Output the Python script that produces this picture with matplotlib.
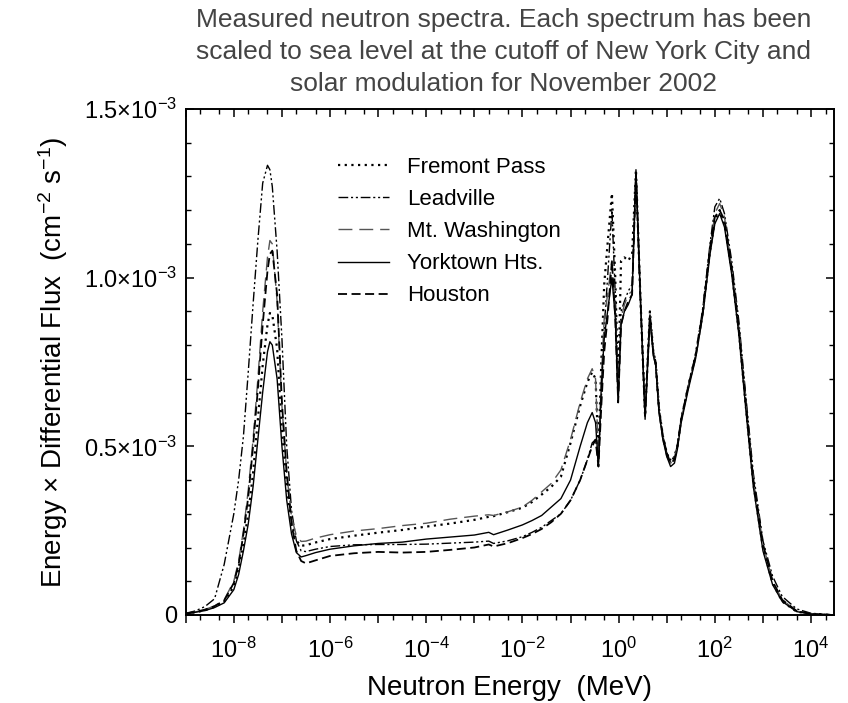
import numpy as np
import matplotlib
matplotlib.use("Agg")
import matplotlib.pyplot as plt
from matplotlib.ticker import FixedLocator, FuncFormatter, LogLocator, MultipleLocator, NullFormatter

plt.rcParams['font.family'] = ['Liberation Sans', 'DejaVu Sans']
plt.rcParams['mathtext.fontset'] = 'custom'
plt.rcParams['mathtext.rm'] = 'Liberation Sans'
plt.rcParams['mathtext.it'] = 'Liberation Sans:italic'

# ---- data (energy as log10(E / MeV), flux in units of 1e-3 cm^-2 s^-1) ----
log_energy = [-9.0, -8.8, -8.6, -8.4, -8.2, -8.0, -7.9, -7.8, -7.7, -7.6, -7.5, -7.4, -7.3, -7.25,
              -7.2, -7.1, -7.0, -6.9, -6.8, -6.7, -6.6,
              -6.5, -6.3, -6.0, -5.5, -5.0, -4.5, -4.0, -3.5, -3.0, -2.7, -2.6, -2.3, -2.0, -1.8,
              -1.6, -1.4, -1.2, -1.0,
              -0.8, -0.65, -0.55, -0.48, -0.42, -0.36, -0.3, -0.23, -0.14, -0.07, -0.01, 0.05,
              0.12, 0.2, 0.28, 0.36, 0.45, 0.55, 0.65, 0.72, 0.77, 0.84, 0.92,
              1.0, 1.08, 1.16, 1.22, 1.3, 1.45, 1.6, 1.75, 1.9, 2.0, 2.1, 2.2, 2.35, 2.5, 2.65,
              2.8, 3.0, 3.2, 3.4, 3.7, 4.0, 4.4]

fremont_pass = [0.004, 0.008, 0.014, 0.024, 0.04, 0.085, 0.14, 0.21, 0.30, 0.42, 0.58, 0.74, 0.86, 0.895,
                0.89, 0.79, 0.55, 0.38, 0.27, 0.22, 0.205,
                0.207, 0.215, 0.225, 0.235, 0.244, 0.252, 0.262, 0.271, 0.282, 0.291, 0.293, 0.305,
                0.318, 0.335, 0.357, 0.38, 0.41, 0.51,
                0.62, 0.69, 0.72, 0.70, 0.48, 0.75, 0.98, 1.10, 1.25, 1.00, 0.68, 1.05, 1.06, 1.05,
                1.07, 1.32, 0.95, 0.59, 0.90, 0.78, 0.75, 0.61, 0.53,
                0.48, 0.45, 0.47, 0.50, 0.58, 0.68, 0.77, 0.90, 1.08, 1.17, 1.20, 1.16, 1.02, 0.84,
                0.61, 0.39, 0.20, 0.095, 0.04, 0.01, 0.003, 0.0005]

leadville = [0.005, 0.012, 0.025, 0.048, 0.15, 0.30, 0.40, 0.53, 0.72, 0.92, 1.11, 1.28, 1.333, 1.32,
             1.27, 1.08, 0.82, 0.50, 0.31, 0.22, 0.19,
             0.188, 0.195, 0.203, 0.208, 0.209, 0.209, 0.210, 0.213, 0.216, 0.219, 0.212, 0.220,
             0.232, 0.245, 0.26, 0.28, 0.30, 0.34,
             0.40, 0.46, 0.51, 0.52, 0.45, 0.64, 0.85, 1.00, 1.20, 0.95, 0.66, 0.90, 0.93, 0.96,
             0.98, 1.30, 0.95, 0.60, 0.89, 0.78, 0.74, 0.60, 0.53,
             0.48, 0.46, 0.47, 0.50, 0.58, 0.68, 0.77, 0.91, 1.10, 1.21, 1.235, 1.19, 1.05, 0.87,
             0.64, 0.42, 0.22, 0.115, 0.055, 0.018, 0.005, 0.001]

mt_washington = [0.004, 0.009, 0.016, 0.027, 0.045, 0.10, 0.16, 0.25, 0.37, 0.52, 0.70, 0.90, 1.06, 1.11,
                 1.10, 0.93, 0.62, 0.42, 0.29, 0.235, 0.218,
                 0.219, 0.228, 0.238, 0.249, 0.256, 0.265, 0.272, 0.284, 0.293, 0.297, 0.295, 0.306,
                 0.32, 0.34, 0.365, 0.39, 0.43, 0.52,
                 0.63, 0.70, 0.73, 0.70, 0.47, 0.70, 0.88, 0.95, 1.05, 0.90, 0.64, 0.88, 0.92, 0.95,
                 0.96, 1.31, 0.94, 0.59, 0.89, 0.77, 0.74, 0.60, 0.52,
                 0.47, 0.45, 0.46, 0.50, 0.58, 0.68, 0.76, 0.89, 1.08, 1.19, 1.22, 1.18, 1.03, 0.85,
                 0.62, 0.40, 0.21, 0.10, 0.045, 0.012, 0.003, 0.0005]

yorktown_hts = [0.004, 0.008, 0.013, 0.022, 0.036, 0.075, 0.12, 0.19, 0.27, 0.38, 0.52, 0.66, 0.78, 0.81,
                0.80, 0.70, 0.50, 0.34, 0.24, 0.185, 0.172,
                0.176, 0.185, 0.195, 0.205, 0.212, 0.216, 0.225, 0.231, 0.237, 0.245, 0.238, 0.252,
                0.267, 0.28, 0.295, 0.32, 0.345, 0.40,
                0.50, 0.57, 0.60, 0.57, 0.44, 0.68, 0.82, 0.90, 1.00, 0.88, 0.63, 0.86, 0.90, 0.92,
                0.95, 1.32, 0.95, 0.58, 0.88, 0.77, 0.74, 0.60, 0.52,
                0.47, 0.44, 0.45, 0.49, 0.57, 0.67, 0.76, 0.89, 1.07, 1.16, 1.19, 1.15, 1.01, 0.83,
                0.60, 0.38, 0.19, 0.09, 0.04, 0.01, 0.003, 0.0005]

houston = [0.004, 0.009, 0.016, 0.026, 0.043, 0.095, 0.15, 0.24, 0.35, 0.50, 0.67, 0.86, 1.02, 1.07,
           1.08, 0.95, 0.63, 0.42, 0.27, 0.19, 0.16,
           0.153, 0.162, 0.175, 0.183, 0.187, 0.185, 0.187, 0.193, 0.20, 0.209, 0.203, 0.213,
           0.228, 0.24, 0.255, 0.275, 0.30, 0.34,
           0.40, 0.46, 0.50, 0.52, 0.44, 0.62, 0.78, 0.88, 1.05, 0.88, 0.63, 0.86, 0.90, 0.93,
           0.95, 1.31, 0.95, 0.59, 0.89, 0.78, 0.75, 0.61, 0.53,
           0.48, 0.45, 0.46, 0.50, 0.58, 0.68, 0.77, 0.90, 1.09, 1.18, 1.20, 1.17, 1.03, 0.85,
           0.62, 0.40, 0.21, 0.10, 0.045, 0.012, 0.003, 0.0005]

labels = ["Fremont Pass", "Leadville", "Mt. Washington", "Yorktown Hts.", "Houston"]
title_text = ("Measured neutron spectra. Each spectrum has been\n"
              "scaled to sea level at the cutoff of New York City and\n"
              "solar modulation for November 2002")

# ---- figure ----
fig = plt.figure(figsize=(8.48, 7.03), dpi=100)
ax = fig.add_axes([0.219, 0.1252, 0.7645, 0.7198])

energy = 10.0 ** np.array(log_energy)
series = [fremont_pass, leadville, mt_washington, yorktown_hts, houston]
styles = [
    dict(color='black', lw=1.6, ls=(0, (1, 2))),
    dict(color='black', lw=1.0, ls=(0, (7, 2, 1.5, 2, 1.5, 2))),
    dict(color='#555555', lw=1.0, ls=(0, (10, 5))),
    dict(color='black', lw=1.0, ls='-'),
    dict(color='black', lw=1.3, ls=(0, (5, 2.5))),
]
for vals, lab, st in zip(series, labels, styles):
    ax.plot(energy, np.array(vals) * 1e-3, label=lab, **st)

ax.set_xscale('log')
ax.set_xlim(1e-9, 3e4)
ax.set_ylim(0, 1.5e-3)

# x ticks
major_x = [10.0 ** k for k in range(-9, 5)]
ax.xaxis.set_major_locator(FixedLocator(major_x))
ax.xaxis.set_minor_locator(LogLocator(base=10, subs=(2, 5), numticks=40))
ax.xaxis.set_minor_formatter(NullFormatter())


def xfmt(v, pos):
    k = int(round(np.log10(v)))
    if k % 2 == 0:
        return r'$\mathregular{10^{%d}}$' % k
    return ''


ax.xaxis.set_major_formatter(FuncFormatter(xfmt))

# y ticks
ax.yaxis.set_major_locator(MultipleLocator(0.5e-3))
ax.yaxis.set_minor_locator(MultipleLocator(0.1e-3))
ylabels = {0: '0', 1: r'0.5$\times$10$^{\mathregular{-3}}$', 2: r'1.0$\times$10$^{\mathregular{-3}}$',
           3: r'1.5$\times$10$^{\mathregular{-3}}$'}
ax.yaxis.set_major_formatter(FuncFormatter(lambda v, p: ylabels.get(int(round(v / 0.5e-3)), '')))

ax.tick_params(axis='x', which='both', direction='out', bottom=True, top=False, labelsize=17, pad=10)
ax.tick_params(axis='x', which='major', length=6, width=1.1)
ax.tick_params(axis='x', which='minor', length=3.5, width=1.0)
ax.tick_params(axis='y', which='both', direction='in', left=True, right=True, labelsize=17, pad=6)
ax.tick_params(axis='y', which='major', length=6, width=1.1)
ax.tick_params(axis='y', which='minor', length=3.5, width=1.0)

ax_top = ax.twiny()
ax_top.set_xscale('log')
ax_top.set_xlim(ax.get_xlim())
ax_top.xaxis.set_major_locator(FixedLocator(major_x))
ax_top.xaxis.set_minor_locator(LogLocator(base=10, subs=(2, 5), numticks=40))
ax_top.xaxis.set_minor_formatter(NullFormatter())
ax_top.tick_params(axis='x', which='both', direction='in', top=True, bottom=False, labeltop=False)
ax_top.tick_params(axis='x', which='major', length=6, width=1.1)
ax_top.tick_params(axis='x', which='minor', length=3.5, width=1.0)

for a in (ax, ax_top):
    for s in a.spines.values():
        s.set_linewidth(1.2)

ax.set_xlabel('Neutron Energy  (MeV)', fontsize=20, labelpad=9)
ax.set_ylabel(r'Energy $\times$ Differential Flux  (cm$^{\mathregular{-2}}$ s$^{\mathregular{-1}}$)',
              fontsize=20, labelpad=10)

fig.text(0.594, 0.989, title_text, ha='center', va='top', fontsize=19, color='#444444',
         linespacing=1.42)

leg = ax.legend(loc='upper left', bbox_to_anchor=(0.235, 0.905), frameon=False, fontsize=16,
                handlelength=2.3, handletextpad=0.8, labelspacing=0.5, borderpad=0, borderaxespad=0)

fig.savefig('out.png', dpi=100)
